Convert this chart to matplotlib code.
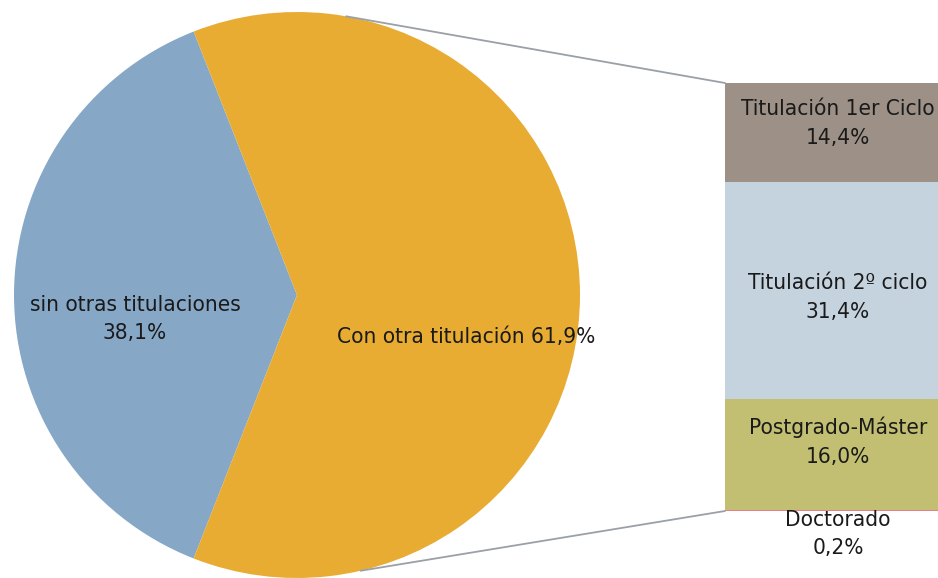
import numpy as np
import matplotlib
matplotlib.use('Agg')
import matplotlib.pyplot as plt
from matplotlib.patches import ConnectionPatch

plt.rcParams['font.family'] = ['DejaVu Sans']
plt.rcParams['font.stretch'] = 'condensed'

# data
pie_labels = ['sin otras titulaciones\n38,1%', 'Con otra titulación 61,9%']
pie_values = [38.1, 61.9]
pie_colors = ['#86a8c6', '#e8ac33']

bar_labels = ['Doctorado\n0,2%', 'Postgrado-Máster\n16,0%',
              'Titulación 2º ciclo\n31,4%', 'Titulación 1er Ciclo\n14,4%']
bar_values = [0.2, 16.0, 31.4, 14.4]
bar_colors = ['#e8808a', '#c2bf72', '#c5d3df', '#9c9087']

W, H = 938, 578
fig = plt.figure(figsize=(W / 100, H / 100), dpi=100)

# pie axes (pixel layout)
cx, cy, r = 297, 295, 283
ax1 = fig.add_axes([(cx - r) / W, (H - cy - r) / H, 2 * r / W, 2 * r / H])
start = 180 - pie_values[0] / 100 * 360 / 2
ax1.pie(pie_values, colors=pie_colors, startangle=start, counterclock=True,
        radius=1, wedgeprops=dict(linewidth=0))
ax1.set_xlim(-1, 1)
ax1.set_ylim(-1, 1)
ax1.set_aspect('equal')
ax1.axis('off')
fs = 16.2
ax1.text(-0.572, -0.085, pie_labels[0], ha='center', va='center',
         fontsize=fs, color='#1a1a1a', linespacing=1.48)
ax1.text(0.597, -0.148, pie_labels[1], ha='center', va='center',
         fontsize=fs, color='#1a1a1a')

# bar axes
bx0, btop, bbot, bw = 725, 83, 511, 226
ax2 = fig.add_axes([bx0 / W, (H - bbot) / H, bw / W, (bbot - btop) / H])
total = sum(bar_values)
bottom = 0
for v, c in zip(bar_values, bar_colors):
    ax2.bar(0, v, width=1, bottom=bottom, color=c, linewidth=0)
    bottom += v
ax2.set_xlim(-0.5, 0.5)
ax2.set_ylim(0, total)
ax2.axis('off')

label_y = [-3.3, 10.0, 30.9, 56.1]
for lab, y in zip(bar_labels, label_y):
    ax2.text(0, y, lab, ha='center', va='center', fontsize=fs,
             color='#1a1a1a', linespacing=1.53, clip_on=False)

# connector lines
for ang, ytarget in [(80, total), (-77, 0)]:
    a = np.deg2rad(ang)
    con = ConnectionPatch(xyA=(np.cos(a), np.sin(a)), coordsA=ax1.transData,
                          xyB=(-0.5, ytarget), coordsB=ax2.transData,
                          color='#9aa0a6', lw=1.3)
    fig.add_artist(con)

fig.savefig('out.png', dpi=100)
